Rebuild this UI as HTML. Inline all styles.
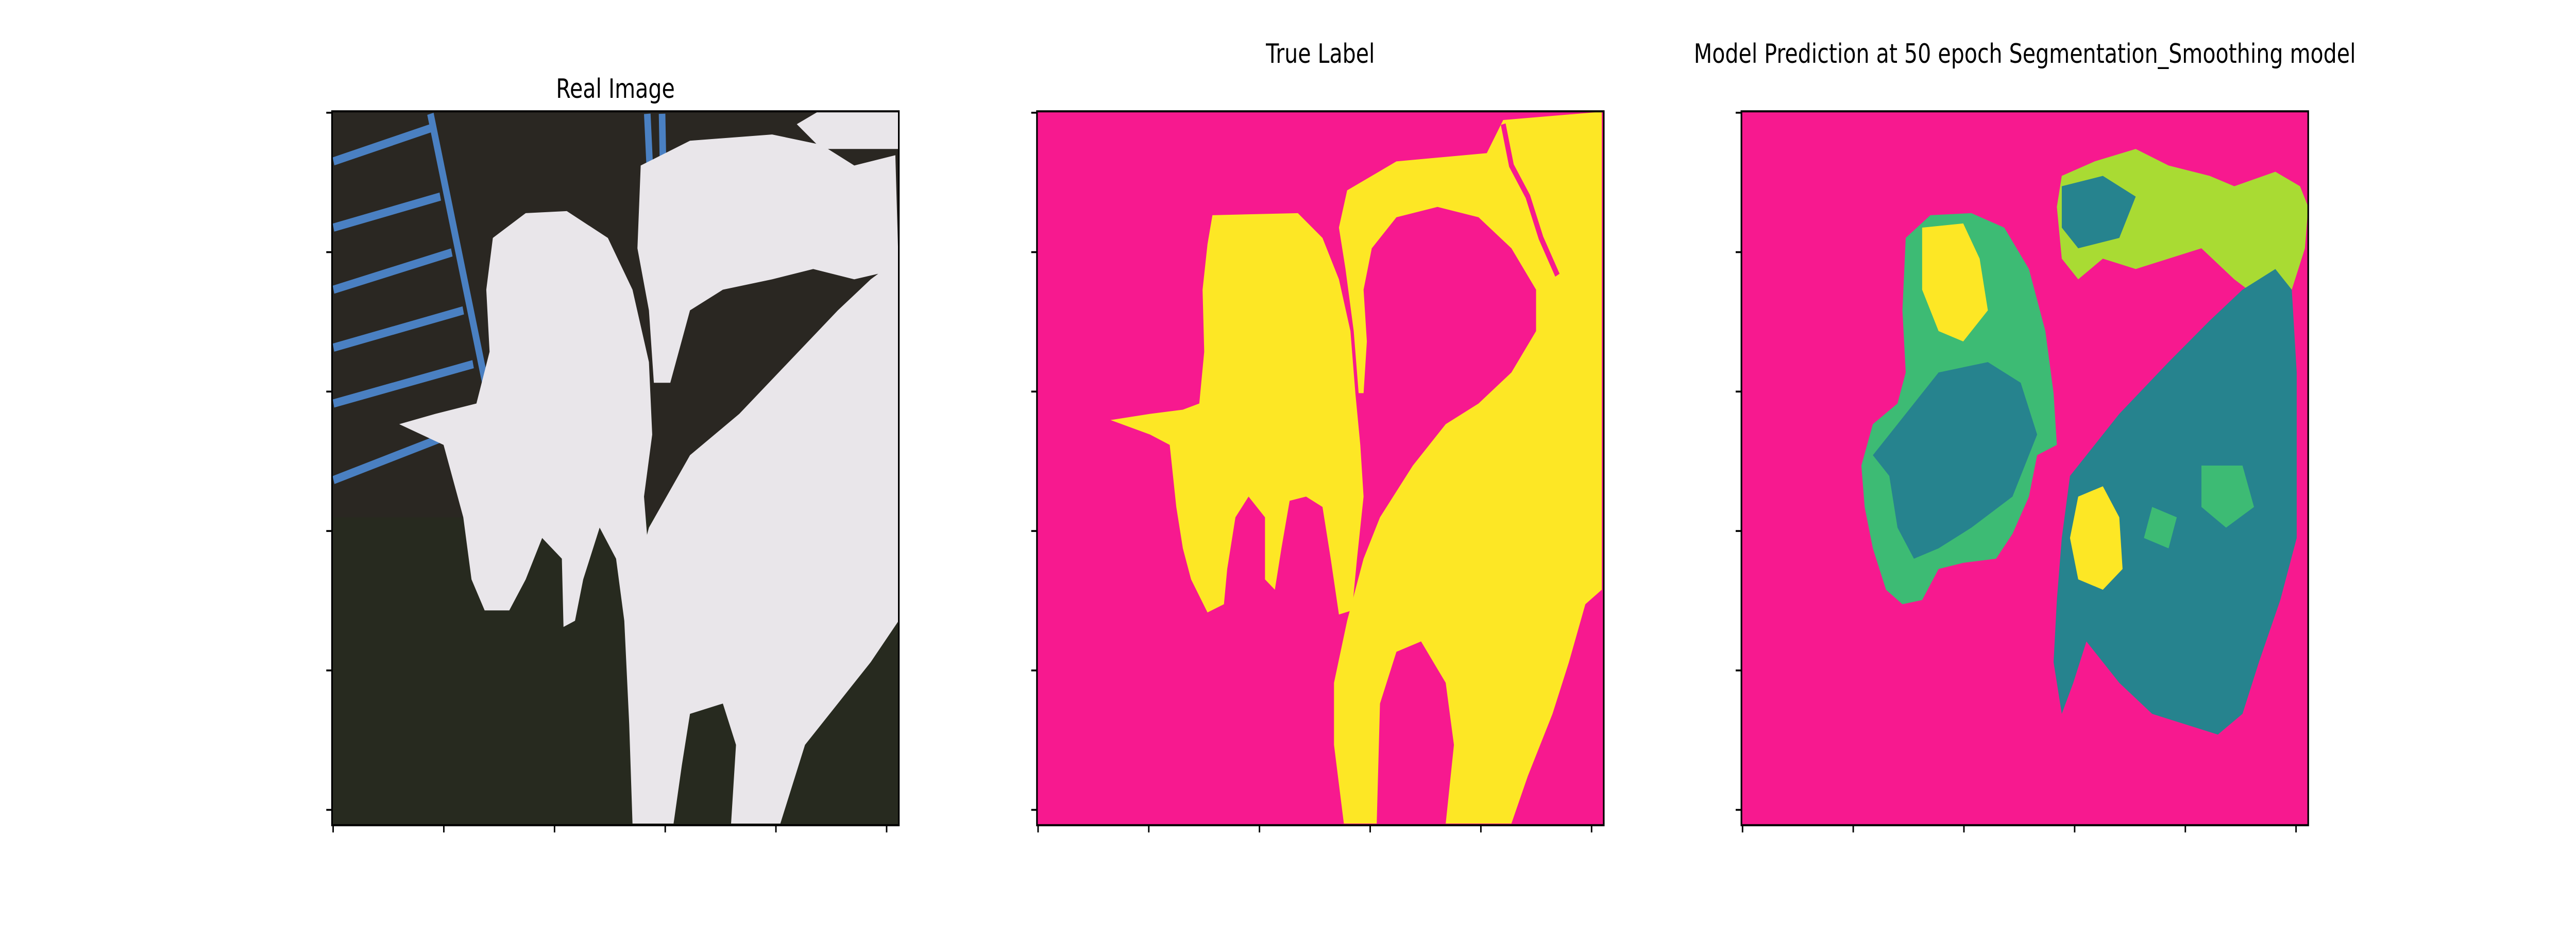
<!DOCTYPE html>
<html><head><meta charset="utf-8"><style>
html,body{margin:0;padding:0;background:#fff;width:100%;height:100%;overflow:hidden;}
svg{display:block;width:100vw;height:100vh;}
text{font-family:"DejaVu Sans","Liberation Sans",sans-serif;font-size:12.9px;fill:#000;}
</style></head><body>
<svg id="fig" viewBox="0 0 1568 448" preserveAspectRatio="none" xmlns="http://www.w3.org/2000/svg">
<defs>
<clipPath id="c1"><rect x="202.1" y="53.8" width="345" height="345"/></clipPath>
<clipPath id="c2"><rect x="631.2" y="53.8" width="345" height="345"/></clipPath>
<clipPath id="c3"><rect x="1060" y="53.8" width="345" height="345"/></clipPath>
</defs>

<g clip-path="url(#c1)">
<rect x="202" y="53" width="346" height="346" fill="#2a2722"/>
<rect x="202" y="250" width="346" height="150" fill="#272a1f"/>
<g stroke="#4a80c2" stroke-width="4" fill="none">
<line x1="262" y1="55" x2="298" y2="195"/>
<line x1="394" y1="55" x2="399" y2="140"/>
<line x1="403" y1="55" x2="405" y2="140"/>
<line x1="203" y1="78" x2="262" y2="62"/>
<line x1="203" y1="110" x2="268" y2="95"/>
<line x1="203" y1="140" x2="275" y2="122"/>
<line x1="203" y1="168" x2="282" y2="150"/>
<line x1="203" y1="195" x2="288" y2="176"/>
<line x1="203" y1="232" x2="300" y2="202"/>
</g>
<g fill="#e9e6ea">
<polygon points="300,115 320,103 345,102 370,115 385,140 395,175 397,210 392,240 395,270 388,300 380,300 375,270 365,255 355,280 350,300 343,303 342,270 330,260 320,280 310,295 295,295 287,280 282,250 270,215 243,205 265,200 290,195 298,170 296,140"/>
<polygon points="390,80 420,68 470,65 500,70 520,80 545,75 547,130 520,135 495,130 470,135 440,140 420,150 408,185 398,185 395,150 388,120"/>
<polygon points="485,60 500,53 547,53 547,72 500,72"/>
<polygon points="380,300 395,255 420,220 450,200 480,175 510,150 530,135 547,125 547,300 530,320 510,340 490,360 475,398 445,398 448,360 440,340 420,345 415,370 410,398 385,398 383,350"/>
</g>
</g>

<g clip-path="url(#c2)">
<rect x="631" y="53" width="346" height="346" fill="#f7198f"/>
<g fill="#fde725">
<polygon points="738,104 790,103 805,115 815,135 822,160 825,190 828,215 830,240 826,270 823,295 815,297 810,270 805,245 795,240 785,242 780,265 776,285 770,280 770,250 760,240 752,250 747,275 745,292 735,296 725,280 720,265 716,245 712,215 700,210 676,203 700,200 720,198 730,195 733,170 732,140 735,118"/>
<polygon points="820,92 850,78 905,74 915,58 975,54 975,285 965,292 955,320 945,345 930,375 920,398 880,398 885,360 880,330 865,310 850,315 840,340 838,398 818,398 812,360 812,330 820,300 830,270 840,250 860,225 880,205 900,195 920,180 935,160 935,140 920,120 900,105 875,100 850,105 835,120 830,140 832,165 830,190 827,190 824,160 819,130 815,110"/>
</g>
<polyline points="915,60 920,80 930,95 938,115 948,133" fill="none" stroke="#f7198f" stroke-width="3"/>
</g>

<g clip-path="url(#c3)">
<rect x="1060" y="53" width="346" height="346" fill="#f7198f"/>
<polygon fill="#3dbb74" points="1160,115 1175,104 1200,103 1220,110 1235,130 1245,160 1250,190 1252,215 1240,220 1235,240 1225,258 1215,270 1195,272 1180,275 1170,290 1158,292 1148,285 1140,265 1135,245 1133,225 1140,205 1155,195 1160,180 1158,150"/>
<polygon fill="#26838e" points="1165,195 1180,180 1210,175 1230,185 1240,210 1225,240 1200,255 1180,265 1165,270 1155,255 1150,230 1140,220"/>
<polygon fill="#fde725" points="1170,110 1195,108 1205,125 1210,150 1195,165 1180,160 1170,140"/>
<polygon fill="#a9db33" points="1255,85 1275,78 1300,72 1320,80 1345,85 1360,90 1385,83 1400,90 1405,100 1403,120 1395,140 1385,150 1360,135 1340,120 1320,125 1300,130 1280,125 1265,135 1255,125 1252,100"/>
<polygon fill="#26838e" points="1255,90 1280,85 1300,95 1290,115 1265,120 1255,110"/>
<polygon fill="#26838e" points="1260,230 1290,200 1320,175 1345,155 1365,140 1385,130 1395,140 1398,180 1398,260 1388,290 1375,320 1365,345 1350,355 1330,350 1310,345 1290,330 1270,310 1262,330 1255,345 1250,320 1252,290 1255,260"/>
<polygon fill="#fde725" points="1265,240 1280,235 1290,250 1292,275 1280,285 1265,280 1260,260"/>
<polygon fill="#3dbb74" points="1340,225 1365,225 1372,245 1355,255 1340,245"/>
<polygon fill="#3dbb74" points="1310,245 1325,250 1320,265 1305,260"/>
</g>

<g id="axes"></g>

<text x="374.6" y="47.3" text-anchor="middle">Real Image</text>
<text x="803.7" y="30.4" text-anchor="middle">True Label</text>
<text x="1232.5" y="30.4" text-anchor="middle">Model Prediction at 50 epoch Segmentation_Smoothing model</text>
</svg>
<script>
const xTicks = [0, 50, 100, 150, 200, 250];
const yTicks = [0, 50, 100, 150, 200, 250];
const imgSize = [256];
const panelLefts = [202.1, 631.2, 1060];
const top0 = 53.8, side = 345;
const NS = 'http://www.w3.org/2000/svg';
const g = document.getElementById('axes');
function sx(left, v){ return left + (v + 0.5) * side / imgSize[0]; }
function sy(v){ return top0 + (v + 0.5) * side / imgSize[0]; }
panelLefts.forEach(function(left, pi){
  const frame = document.createElementNS(NS, 'rect');
  frame.setAttribute('x', left); frame.setAttribute('y', top0);
  frame.setAttribute('width', side); frame.setAttribute('height', side);
  frame.setAttribute('fill', 'none'); frame.setAttribute('stroke', '#000'); frame.setAttribute('stroke-width', '1');
  
  
  g.appendChild(frame);
  xTicks.forEach(function(t){
    const l = document.createElementNS(NS, 'line');
    const x = sx(left, t);
    l.setAttribute('x1', x); l.setAttribute('x2', x);
    l.setAttribute('y1', top0 + side); l.setAttribute('y2', top0 + side + 3.5);
    l.setAttribute('stroke', '#000'); l.setAttribute('stroke-width', '0.9');
    
    
    g.appendChild(l);
  });
  yTicks.forEach(function(t){
    const l = document.createElementNS(NS, 'line');
    const y = sy(t);
    l.setAttribute('y1', y); l.setAttribute('y2', y);
    l.setAttribute('x1', left); l.setAttribute('x2', left - 3.5);
    l.setAttribute('stroke', '#000'); l.setAttribute('stroke-width', '0.9');
    
    
    g.appendChild(l);
  });
});
</script>
</body></html>
